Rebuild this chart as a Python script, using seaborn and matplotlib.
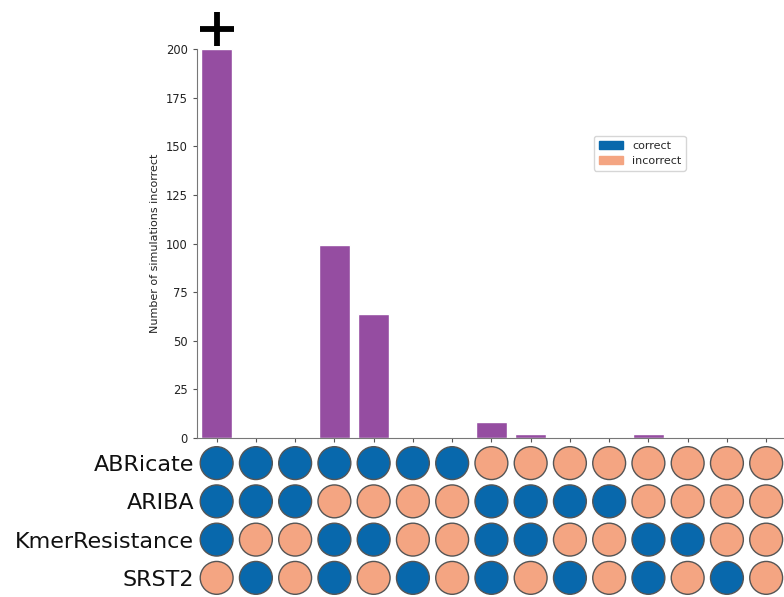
import matplotlib
matplotlib.use("Agg")
import matplotlib.pyplot as plt
import matplotlib.patches as mpatches
import numpy as np
import pandas as pd
import seaborn as sns

# Tools and the outcome pattern of each combination (C = correct, I = incorrect)
tools = ["ABRicate", "ARIBA", "KmerResistance", "SRST2"]
patterns = [
    "CCCI", "CCIC", "CCII", "CICC", "CICI", "CIIC", "CIII",
    "ICCC", "ICCI", "ICIC", "ICII", "IICC", "IICI", "IIIC", "IIII",
]
counts = [200, 0, 0, 99, 64, 0, 0, 8, 2, 0, 0, 2, 0, 0, 0]
y_ticks = [0, 25, 50, 75, 100, 125, 150, 175, 200]

BLUE = "#0868ac"
ORANGE = "#f4a582"
PURPLE = "#954da1"
GREY = "#555555"

sns.set_style("ticks")
plt.rcParams["font.family"] = ["DejaVu Sans"]

fig = plt.figure(figsize=(7.84, 5.97), dpi=100)
ax_bar = fig.add_axes([0.2513, 0.2663, 0.751, 0.6516])
ax_dot = fig.add_axes([0.2513, 0.0, 0.751, 0.2563], sharex=ax_bar)

# Bar panel
bar_df = pd.DataFrame({"col": np.arange(len(counts)), "n": counts})
sns.barplot(data=bar_df, x="col", y="n", color=PURPLE, saturation=1,
            width=0.8, ax=ax_bar, order=list(range(len(counts))))
ax_bar.set_xlim(-0.5, len(counts) - 0.5)
ax_bar.set_ylim(0, 200)
ax_bar.set_yticks(y_ticks)
ax_bar.set_ylabel("Number of simulations incorrect", fontsize=8, color="#222222")
ax_bar.set_xlabel("")
ax_bar.tick_params(axis="x", labelbottom=False, length=3, color=GREY)
ax_bar.tick_params(axis="y", labelsize=8.3, length=3, color=GREY, labelcolor="#222222")
for side in ("top", "right"):
    ax_bar.spines[side].set_visible(False)
for side in ("left", "bottom"):
    ax_bar.spines[side].set_color("#777777")

# Marker above the first bar: its value runs beyond the axis
ax_bar.plot(0, 210.5, marker="+", markersize=24, markeredgewidth=4.2,
            color="black", clip_on=False)

# Legend
handles = [mpatches.Patch(color=BLUE, label="correct"),
           mpatches.Patch(color=ORANGE, label="incorrect")]
ax_bar.legend(handles=handles, loc="upper left", bbox_to_anchor=(0.665, 0.79),
              fontsize=8, frameon=True, handlelength=2.2)

# Dot matrix panel
rows = []
for ci, pat in enumerate(patterns):
    for ti, tool in enumerate(tools):
        rows.append({"col": ci, "row": ti,
                     "status": "correct" if pat[ti] == "C" else "incorrect"})
dot_df = pd.DataFrame(rows)
sns.scatterplot(data=dot_df, x="col", y="row", hue="status",
                palette={"correct": BLUE, "incorrect": ORANGE},
                s=560, edgecolor=GREY, linewidth=1.0, legend=False,
                ax=ax_dot, clip_on=False)
ax_dot.set_ylim(len(tools) - 0.5, -0.5)
ax_dot.set_yticks(range(len(tools)))
ax_dot.set_yticklabels(tools, fontsize=16, color="#111111")
ax_dot.tick_params(axis="y", length=0, pad=2)
ax_dot.tick_params(axis="x", bottom=False, labelbottom=False)
ax_dot.set_xlabel("")
ax_dot.set_ylabel("")
for side in ax_dot.spines:
    ax_dot.spines[side].set_visible(False)

fig.savefig("out.png", dpi=100)
